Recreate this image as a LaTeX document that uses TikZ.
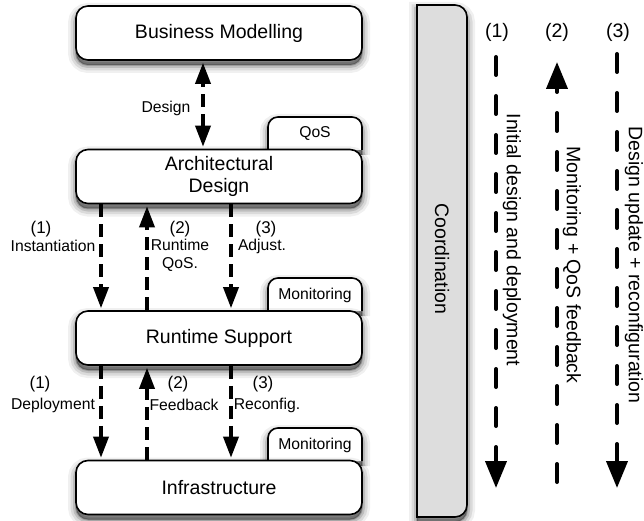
\documentclass[tikz,border=0pt]{standalone}
\usepackage{fontspec}
\setmainfont{Liberation Sans}
\usetikzlibrary{arrows.meta}
\definecolor{coordgray}{RGB}{221,221,221}

\begin{document}
\begin{tikzpicture}[x=1pt,y=-1pt,
  softshadow/.style={
    preaction={draw=black,fill=black,line width=16pt,opacity=0.06,transform canvas={yshift=-5pt}},
    preaction={draw=black,fill=black,line width=11pt,opacity=0.09,transform canvas={yshift=-5pt}},
    preaction={draw=black,fill=black,line width=6pt,opacity=0.13,transform canvas={yshift=-5pt}},
    preaction={draw=black,fill=black,line width=2pt,opacity=0.18,transform canvas={yshift=-5pt}}},
  big/.style={font=\fontsize{19.5}{22}\selectfont},
  lbl/.style={font=\fontsize{15.7}{18}\selectfont, inner sep=0pt},
  num/.style={font=\fontsize{17}{18}\selectfont, inner sep=0pt},
  box/.style={draw=black, fill=white, line width=1.6pt, rounded corners=12pt,
    minimum width=286pt, minimum height=54pt, align=center, big, softshadow},
  tab/.style={draw=black, fill=white, line width=1.6pt, rounded corners=10pt, softshadow},
  coordbox/.style={draw=black, fill=coordgray, line width=1.6pt, softshadow},
  flow/.style={line width=3.5pt, dash pattern=on 13pt off 7pt,
    -{Triangle[width=15pt,length=21pt]}, shorten >=2pt},
  duo/.style={line width=3.5pt, dash pattern=on 13pt off 7pt,
    {Triangle[width=15pt,length=21pt]}-{Triangle[width=15pt,length=21pt]},
    shorten >=2pt, shorten <=2pt},
  phase/.style={line width=4pt, line cap=round, dash pattern=on 18pt off 21pt,
    -{Triangle[width=21pt,length=27pt]}}]

\useasboundingbox (0,0) rectangle (644,521);
\fill[white] (0,0) rectangle (644,521);

% tabs sitting on top of the boxes
\draw[tab] (268,150) -- (268,117) -- (362,117) -- (362,150);
\node[lbl] (qos) at (315,134) {QoS};
\draw[tab] (268,311) -- (268,278) -- (362,278) -- (362,311);
\node[lbl] (mon1) at (315,295) {Monitoring};
\draw[tab] (268,461) -- (268,428) -- (362,428) -- (362,461);
\node[lbl] (mon2) at (315,445) {Monitoring};

% layers
\node[box] (bm) at (219,33) {Business Modelling};
\node[box] (ad) at (219,176.5) {Architectural\\Design};
\node[box] (rs) at (219,338) {Runtime Support};
\node[box] (inf) at (219,487.5) {Infrastructure};

% coordination bar
\draw[coordbox] (417,5) -- (455,5) arc(-90:0:12) -- (467,505) arc(0:90:12) -- (417,517) -- cycle;
\node[big, rotate=-90] (coord) at (442,259) {Coordination};

% design link
\draw[duo] ([xshift=-16pt]ad.north) -- ([xshift=-16pt]bm.south);
\node[lbl] (design) at (166,108) {Design};

% architectural design <-> runtime support
\draw[flow] ([xshift=-118pt]ad.south) -- ([xshift=-118pt]rs.north);
\draw[flow] ([xshift=-72pt]rs.north) -- ([xshift=-72pt]ad.south);
\draw[flow] ([xshift=12pt]ad.south) -- ([xshift=12pt]rs.north);
\node[num] (u1a) at (41,229) {(1)};
\node[lbl] (u1b) at (53,246) {Instantiation};
\node[num] (u2a) at (180,229) {(2)};
\node[lbl, align=center] (u2b) at (180,255) {Runtime\\QoS.};
\node[num] (u3a) at (266,229) {(3)};
\node[lbl] (u3b) at (262,246) {Adjust.};

% runtime support <-> infrastructure
\draw[flow] ([xshift=-118pt]rs.south) -- ([xshift=-118pt]inf.north);
\draw[flow] ([xshift=-72pt]inf.north) -- ([xshift=-72pt]rs.south);
\draw[flow] ([xshift=12pt]rs.south) -- ([xshift=12pt]inf.north);
\node[num] (d1a) at (40,384) {(1)};
\node[lbl] (d1b) at (53,405) {Deployment};
\node[num] (d2a) at (178,384) {(2)};
\node[lbl] (d2b) at (184,405) {Feedback};
\node[num] (d3a) at (263,384) {(3)};
\node[lbl] (d3b) at (267,405) {Reconfig.};

% phases on the right
\coordinate (p1s) at (496,57);
\coordinate (p1e) at (496,488);
\coordinate (p2s) at (557,482);
\coordinate (p2e) at (557,62);
\coordinate (p3s) at (617,54);
\coordinate (p3e) at (617,488);
\draw[phase] (p1s) -- (p1e);
\draw[phase] (p2s) -- (p2e);
\draw[phase] (p3s) -- (p3e);
\node[big] (n1) at (497,32) {(1)};
\node[big] (n2) at (557,32) {(2)};
\node[big] (n3) at (618,32) {(3)};
\node[big, rotate=-90] (t1) at (512,240) {Initial design and deployment};
\node[big, rotate=-90] (t2) at (572,265) {Monitoring + QoS feedback};
\node[big, rotate=-90, inner sep=1pt] (t3) at (634,265) {Design update + reconfiguration};
\end{tikzpicture}
\end{document}
